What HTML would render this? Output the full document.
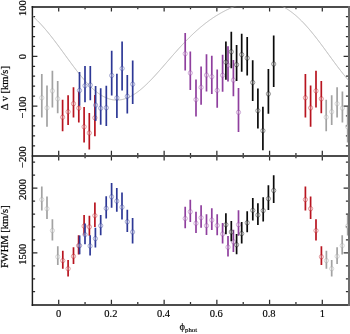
<!DOCTYPE html>
<html><head><meta charset="utf-8"><style>
html,body{margin:0;padding:0;background:#fff;}
body{width:350px;height:334px;overflow:hidden;font-family:"Liberation Serif",serif;}
svg{display:block;}
</style></head><body>
<svg width="350" height="334" viewBox="0 0 350 334">
<defs><clipPath id="cu"><rect x="32.5" y="6.7" width="315.5" height="149.0"/></clipPath><clipPath id="cc"><rect x="32.5" y="6.7" width="316.0" height="149.0"/></clipPath>
<clipPath id="cl"><rect x="32.5" y="155.7" width="315.5" height="149.0"/></clipPath></defs>
<rect width="350" height="334" fill="#fff"/>
<path d="M58.70 6.70L58.70 11.60M58.70 150.80L58.70 160.60M58.70 304.70L58.70 299.80M85.06 6.70L85.06 9.30M85.06 153.10L85.06 158.30M85.06 304.70L85.06 302.10M111.42 6.70L111.42 11.60M111.42 150.80L111.42 160.60M111.42 304.70L111.42 299.80M137.78 6.70L137.78 9.30M137.78 153.10L137.78 158.30M137.78 304.70L137.78 302.10M164.14 6.70L164.14 11.60M164.14 150.80L164.14 160.60M164.14 304.70L164.14 299.80M190.50 6.70L190.50 9.30M190.50 153.10L190.50 158.30M190.50 304.70L190.50 302.10M216.86 6.70L216.86 11.60M216.86 150.80L216.86 160.60M216.86 304.70L216.86 299.80M243.22 6.70L243.22 9.30M243.22 153.10L243.22 158.30M243.22 304.70L243.22 302.10M269.58 6.70L269.58 11.60M269.58 150.80L269.58 160.60M269.58 304.70L269.58 299.80M295.94 6.70L295.94 9.30M295.94 153.10L295.94 158.30M295.94 304.70L295.94 302.10M322.30 6.70L322.30 11.60M322.30 150.80L322.30 160.60M322.30 304.70L322.30 299.80M32.50 16.63L35.10 16.63M348.50 16.63L345.90 16.63M32.50 26.57L35.10 26.57M348.50 26.57L345.90 26.57M32.50 36.50L35.10 36.50M348.50 36.50L345.90 36.50M32.50 46.43L35.10 46.43M348.50 46.43L345.90 46.43M32.50 56.37L37.40 56.37M348.50 56.37L343.60 56.37M32.50 66.30L35.10 66.30M348.50 66.30L345.90 66.30M32.50 76.23L35.10 76.23M348.50 76.23L345.90 76.23M32.50 86.17L35.10 86.17M348.50 86.17L345.90 86.17M32.50 96.10L35.10 96.10M348.50 96.10L345.90 96.10M32.50 106.03L37.40 106.03M348.50 106.03L343.60 106.03M32.50 115.97L35.10 115.97M348.50 115.97L345.90 115.97M32.50 125.90L35.10 125.90M348.50 125.90L345.90 125.90M32.50 135.83L35.10 135.83M348.50 135.83L345.90 135.83M32.50 145.77L35.10 145.77M348.50 145.77L345.90 145.77M32.50 162.18L35.10 162.18M348.50 162.18L345.90 162.18M32.50 175.13L35.10 175.13M348.50 175.13L345.90 175.13M32.50 188.09L37.40 188.09M348.50 188.09L343.60 188.09M32.50 201.05L35.10 201.05M348.50 201.05L345.90 201.05M32.50 214.00L35.10 214.00M348.50 214.00L345.90 214.00M32.50 226.96L35.10 226.96M348.50 226.96L345.90 226.96M32.50 239.92L35.10 239.92M348.50 239.92L345.90 239.92M32.50 252.87L37.40 252.87M348.50 252.87L343.60 252.87M32.50 265.83L35.10 265.83M348.50 265.83L345.90 265.83M32.50 278.79L35.10 278.79M348.50 278.79L345.90 278.79M32.50 291.74L35.10 291.74M348.50 291.74L345.90 291.74" stroke="#2e2e2e" stroke-width="1.25" fill="none"/>
<path d="M31.7 7H348M31.7 156H348M31.7 305H348" stroke="#4c4c4c" stroke-width="2" fill="none"/>
<path d="M32.4 6V306" stroke="#1c1c1c" stroke-width="1.45" fill="none"/>
<path d="M349 6V306" stroke="#6c6c6c" stroke-width="2" fill="none"/>
<polyline points="32.5,16.06 33.5,16.95 34.5,17.86 35.5,18.80 36.5,19.77 37.5,20.75 38.5,21.76 39.5,22.80 40.5,23.86 41.5,24.94 42.5,26.04 43.5,27.16 44.5,28.30 45.5,29.46 46.5,30.65 47.5,31.85 48.5,33.07 49.5,34.30 50.5,35.55 51.5,36.82 52.5,38.10 53.5,39.39 54.5,40.70 55.5,42.01 56.5,43.34 57.5,44.68 58.5,46.03 59.5,47.38 60.5,48.74 61.5,50.10 62.5,51.47 63.5,52.84 64.5,54.22 65.5,55.59 66.5,56.96 67.5,58.33 68.5,59.70 69.5,61.06 70.5,62.42 71.5,63.77 72.5,65.11 73.5,66.45 74.5,67.77 75.5,69.08 76.5,70.38 77.5,71.66 78.5,72.93 79.5,74.19 80.5,75.42 81.5,76.64 82.5,77.83 83.5,79.01 84.5,80.16 85.5,81.29 86.5,82.39 87.5,83.47 88.5,84.52 89.5,85.55 90.5,86.55 91.5,87.51 92.5,88.45 93.5,89.35 94.5,90.23 95.5,91.07 96.5,91.87 97.5,92.65 98.5,93.38 99.5,94.08 100.5,94.75 101.5,95.37 102.5,95.96 103.5,96.52 104.5,97.03 105.5,97.50 106.5,97.94 107.5,98.33 108.5,98.69 109.5,99.01 110.5,99.28 111.5,99.52 112.5,99.71 113.5,99.86 114.5,99.98 115.5,100.05 116.5,100.08 117.5,100.07 118.5,100.03 119.5,99.94 120.5,99.81 121.5,99.64 122.5,99.44 123.5,99.19 124.5,98.91 125.5,98.59 126.5,98.23 127.5,97.84 128.5,97.41 129.5,96.94 130.5,96.44 131.5,95.90 132.5,95.33 133.5,94.73 134.5,94.10 135.5,93.44 136.5,92.74 137.5,92.02 138.5,91.27 139.5,90.49 140.5,89.68 141.5,88.85 142.5,87.99 143.5,87.11 144.5,86.20 145.5,85.28 146.5,84.33 147.5,83.36 148.5,82.38 149.5,81.38 150.5,80.35 151.5,79.32 152.5,78.27 153.5,77.20 154.5,76.12 155.5,75.04 156.5,73.94 157.5,72.83 158.5,71.71 159.5,70.58 160.5,69.45 161.5,68.31 162.5,67.16 163.5,66.02 164.5,64.87 165.5,63.71 166.5,62.56 167.5,61.40 168.5,60.25 169.5,59.10 170.5,57.94 171.5,56.80 172.5,55.65 173.5,54.51 174.5,53.38 175.5,52.25 176.5,51.12 177.5,50.01 178.5,48.90 179.5,47.80 180.5,46.70 181.5,45.62 182.5,44.55 183.5,43.48 184.5,42.43 185.5,41.39 186.5,40.36 187.5,39.34 188.5,38.33 189.5,37.34 190.5,36.35 191.5,35.38 192.5,34.43 193.5,33.48 194.5,32.55 195.5,31.64 196.5,30.73 197.5,29.84 198.5,28.97 199.5,28.11 200.5,27.26 201.5,26.43 202.5,25.61 203.5,24.80 204.5,24.01 205.5,23.23 206.5,22.47 207.5,21.72 208.5,20.98 209.5,20.26 210.5,19.55 211.5,18.86 212.5,18.18 213.5,17.51 214.5,16.86 215.5,16.22 216.5,15.59 217.5,14.98 218.5,14.38 219.5,13.79 220.5,13.22 221.5,12.65 222.5,12.10 223.5,11.57 224.5,11.04 225.5,10.53 226.5,10.03 227.5,9.55 228.5,9.07 229.5,8.61 230.5,8.16 231.5,7.73 232.5,7.30 233.5,6.89 234.5,6.49 235.5,6.11 236.5,5.73 237.5,5.37 238.5,5.03 239.5,4.69 240.5,4.37 241.5,4.06 242.5,3.77 243.5,3.49 244.5,3.22 245.5,2.97 246.5,2.73 247.5,2.51 248.5,2.30 249.5,2.10 250.5,1.93 251.5,1.76 252.5,1.62 253.5,1.49 254.5,1.37 255.5,1.28 256.5,1.20 257.5,1.13 258.5,1.09 259.5,1.07 260.5,1.06 261.5,1.07 262.5,1.11 263.5,1.16 264.5,1.23 265.5,1.32 266.5,1.44 267.5,1.57 268.5,1.73 269.5,1.91 270.5,2.11 271.5,2.34 272.5,2.59 273.5,2.86 274.5,3.16 275.5,3.48 276.5,3.82 277.5,4.19 278.5,4.59 279.5,5.01 280.5,5.45 281.5,5.92 282.5,6.42 283.5,6.94 284.5,7.49 285.5,8.07 286.5,8.67 287.5,9.30 288.5,9.96 289.5,10.64 290.5,11.35 291.5,12.08 292.5,12.84 293.5,13.63 294.5,14.44 295.5,15.28 296.5,16.15 297.5,17.04 298.5,17.96 299.5,18.90 300.5,19.86 301.5,20.85 302.5,21.87 303.5,22.90 304.5,23.96 305.5,25.04 306.5,26.15 307.5,27.27 308.5,28.42 309.5,29.58 310.5,30.77 311.5,31.97 312.5,33.19 313.5,34.42 314.5,35.68 315.5,36.94 316.5,38.23 317.5,39.52 318.5,40.83 319.5,42.15 320.5,43.48 321.5,44.81 322.5,46.16 323.5,47.51 324.5,48.87 325.5,50.24 326.5,51.61 327.5,52.98 328.5,54.35 329.5,55.73 330.5,57.10 331.5,58.47 332.5,59.84 333.5,61.20 334.5,62.56 335.5,63.91 336.5,65.25 337.5,66.58 338.5,67.90 339.5,69.21 340.5,70.51 341.5,71.79 342.5,73.06 343.5,74.31 344.5,75.54 345.5,76.76 346.5,77.95 347.5,79.12 348.5,80.27" fill="none" stroke="#b3b3b3" stroke-width="0.9" clip-path="url(#cc)"/>
<g clip-path="url(#cu)">
<line x1="326.20" y1="99.80" x2="326.20" y2="131.30" stroke="#a2a2a2" stroke-width="1.7"/>
<circle cx="326.20" cy="117.20" r="2.15" fill="#fff" fill-opacity="0.28" stroke="#a2a2a2" stroke-opacity="0.62" stroke-width="0.65"/>
<line x1="331.70" y1="95.30" x2="331.70" y2="125.00" stroke="#a2a2a2" stroke-width="1.7"/>
<circle cx="331.70" cy="111.80" r="2.15" fill="#fff" fill-opacity="0.28" stroke="#a2a2a2" stroke-opacity="0.62" stroke-width="0.65"/>
<line x1="337.10" y1="87.20" x2="337.10" y2="117.40" stroke="#a2a2a2" stroke-width="1.7"/>
<circle cx="337.10" cy="103.70" r="2.15" fill="#fff" fill-opacity="0.28" stroke="#a2a2a2" stroke-opacity="0.62" stroke-width="0.65"/>
<line x1="342.40" y1="91.40" x2="342.40" y2="122.60" stroke="#a2a2a2" stroke-width="1.7"/>
<circle cx="342.40" cy="108.10" r="2.15" fill="#fff" fill-opacity="0.28" stroke="#a2a2a2" stroke-opacity="0.62" stroke-width="0.65"/>
<line x1="347.70" y1="107.00" x2="347.70" y2="142.60" stroke="#a2a2a2" stroke-width="1.7"/>
<circle cx="347.70" cy="126.80" r="2.15" fill="#fff" fill-opacity="0.28" stroke="#a2a2a2" stroke-opacity="0.62" stroke-width="0.65"/>
<line x1="352.90" y1="113.00" x2="352.90" y2="149.50" stroke="#a2a2a2" stroke-width="1.7"/>
<circle cx="352.90" cy="133.00" r="2.15" fill="#fff" fill-opacity="0.28" stroke="#a2a2a2" stroke-opacity="0.62" stroke-width="0.65"/>
<line x1="358.50" y1="95.00" x2="358.50" y2="136.30" stroke="#a2a2a2" stroke-width="1.7"/>
<circle cx="358.50" cy="117.80" r="2.15" fill="#fff" fill-opacity="0.28" stroke="#a2a2a2" stroke-opacity="0.62" stroke-width="0.65"/>
<line x1="41.80" y1="74.00" x2="41.80" y2="117.50" stroke="#a2a2a2" stroke-width="1.7"/>
<circle cx="41.80" cy="97.80" r="2.15" fill="#fff" fill-opacity="0.28" stroke="#a2a2a2" stroke-opacity="0.62" stroke-width="0.65"/>
<line x1="47.00" y1="85.60" x2="47.00" y2="126.70" stroke="#a2a2a2" stroke-width="1.7"/>
<circle cx="47.00" cy="107.90" r="2.15" fill="#fff" fill-opacity="0.28" stroke="#a2a2a2" stroke-opacity="0.62" stroke-width="0.65"/>
<line x1="52.40" y1="70.70" x2="52.40" y2="107.60" stroke="#a2a2a2" stroke-width="1.7"/>
<circle cx="52.40" cy="90.90" r="2.15" fill="#fff" fill-opacity="0.28" stroke="#a2a2a2" stroke-opacity="0.62" stroke-width="0.65"/>
<line x1="57.70" y1="80.90" x2="57.70" y2="113.30" stroke="#a2a2a2" stroke-width="1.7"/>
<circle cx="57.70" cy="98.80" r="2.15" fill="#fff" fill-opacity="0.28" stroke="#a2a2a2" stroke-opacity="0.62" stroke-width="0.65"/>
<line x1="62.60" y1="99.80" x2="62.60" y2="131.30" stroke="#b8141f" stroke-width="1.7"/>
<circle cx="62.60" cy="117.20" r="2.15" fill="#fff" fill-opacity="0.28" stroke="#b8141f" stroke-opacity="0.62" stroke-width="0.65"/>
<line x1="68.10" y1="95.30" x2="68.10" y2="125.00" stroke="#b8141f" stroke-width="1.7"/>
<circle cx="68.10" cy="111.80" r="2.15" fill="#fff" fill-opacity="0.28" stroke="#b8141f" stroke-opacity="0.62" stroke-width="0.65"/>
<line x1="73.50" y1="87.20" x2="73.50" y2="117.40" stroke="#b8141f" stroke-width="1.7"/>
<circle cx="73.50" cy="103.70" r="2.15" fill="#fff" fill-opacity="0.28" stroke="#b8141f" stroke-opacity="0.62" stroke-width="0.65"/>
<line x1="78.80" y1="91.40" x2="78.80" y2="122.60" stroke="#b8141f" stroke-width="1.7"/>
<circle cx="78.80" cy="108.10" r="2.15" fill="#fff" fill-opacity="0.28" stroke="#b8141f" stroke-opacity="0.62" stroke-width="0.65"/>
<line x1="84.10" y1="107.00" x2="84.10" y2="142.60" stroke="#b8141f" stroke-width="1.7"/>
<circle cx="84.10" cy="126.80" r="2.15" fill="#fff" fill-opacity="0.28" stroke="#b8141f" stroke-opacity="0.62" stroke-width="0.65"/>
<line x1="89.30" y1="113.00" x2="89.30" y2="149.50" stroke="#b8141f" stroke-width="1.7"/>
<circle cx="89.30" cy="133.00" r="2.15" fill="#fff" fill-opacity="0.28" stroke="#b8141f" stroke-opacity="0.62" stroke-width="0.65"/>
<line x1="94.90" y1="95.00" x2="94.90" y2="136.30" stroke="#b8141f" stroke-width="1.7"/>
<circle cx="94.90" cy="117.80" r="2.15" fill="#fff" fill-opacity="0.28" stroke="#b8141f" stroke-opacity="0.62" stroke-width="0.65"/>
<line x1="305.40" y1="74.00" x2="305.40" y2="117.50" stroke="#b8141f" stroke-width="1.7"/>
<circle cx="305.40" cy="97.80" r="2.15" fill="#fff" fill-opacity="0.28" stroke="#b8141f" stroke-opacity="0.62" stroke-width="0.65"/>
<line x1="310.60" y1="85.60" x2="310.60" y2="126.70" stroke="#b8141f" stroke-width="1.7"/>
<circle cx="310.60" cy="107.90" r="2.15" fill="#fff" fill-opacity="0.28" stroke="#b8141f" stroke-opacity="0.62" stroke-width="0.65"/>
<line x1="316.00" y1="70.70" x2="316.00" y2="107.60" stroke="#b8141f" stroke-width="1.7"/>
<circle cx="316.00" cy="90.90" r="2.15" fill="#fff" fill-opacity="0.28" stroke="#b8141f" stroke-opacity="0.62" stroke-width="0.65"/>
<line x1="321.30" y1="80.90" x2="321.30" y2="113.30" stroke="#b8141f" stroke-width="1.7"/>
<circle cx="321.30" cy="98.80" r="2.15" fill="#fff" fill-opacity="0.28" stroke="#b8141f" stroke-opacity="0.62" stroke-width="0.65"/>
<line x1="79.50" y1="72.00" x2="79.50" y2="105.70" stroke="#2d3896" stroke-width="1.7"/>
<circle cx="79.50" cy="90.50" r="2.15" fill="#fff" fill-opacity="0.28" stroke="#2d3896" stroke-opacity="0.62" stroke-width="0.65"/>
<line x1="85.00" y1="66.00" x2="85.00" y2="102.20" stroke="#2d3896" stroke-width="1.7"/>
<circle cx="85.00" cy="85.70" r="2.15" fill="#fff" fill-opacity="0.28" stroke="#2d3896" stroke-opacity="0.62" stroke-width="0.65"/>
<line x1="90.30" y1="66.00" x2="90.30" y2="100.20" stroke="#2d3896" stroke-width="1.7"/>
<circle cx="90.30" cy="85.10" r="2.15" fill="#fff" fill-opacity="0.28" stroke="#2d3896" stroke-opacity="0.62" stroke-width="0.65"/>
<line x1="95.60" y1="86.00" x2="95.60" y2="121.00" stroke="#2d3896" stroke-width="1.7"/>
<circle cx="95.60" cy="105.10" r="2.15" fill="#fff" fill-opacity="0.28" stroke="#2d3896" stroke-opacity="0.62" stroke-width="0.65"/>
<line x1="100.70" y1="88.20" x2="100.70" y2="124.70" stroke="#2d3896" stroke-width="1.7"/>
<circle cx="100.70" cy="108.20" r="2.15" fill="#fff" fill-opacity="0.28" stroke="#2d3896" stroke-opacity="0.62" stroke-width="0.65"/>
<line x1="106.30" y1="85.80" x2="106.30" y2="125.90" stroke="#2d3896" stroke-width="1.7"/>
<circle cx="106.30" cy="107.80" r="2.15" fill="#fff" fill-opacity="0.28" stroke="#2d3896" stroke-opacity="0.62" stroke-width="0.65"/>
<line x1="111.70" y1="50.70" x2="111.70" y2="95.50" stroke="#2d3896" stroke-width="1.7"/>
<circle cx="111.70" cy="75.50" r="2.15" fill="#fff" fill-opacity="0.28" stroke="#2d3896" stroke-opacity="0.62" stroke-width="0.65"/>
<line x1="116.90" y1="73.80" x2="116.90" y2="118.00" stroke="#2d3896" stroke-width="1.7"/>
<circle cx="116.90" cy="97.90" r="2.15" fill="#fff" fill-opacity="0.28" stroke="#2d3896" stroke-opacity="0.62" stroke-width="0.65"/>
<line x1="122.10" y1="41.60" x2="122.10" y2="90.40" stroke="#2d3896" stroke-width="1.7"/>
<circle cx="122.10" cy="68.50" r="2.15" fill="#fff" fill-opacity="0.28" stroke="#2d3896" stroke-opacity="0.62" stroke-width="0.65"/>
<line x1="127.30" y1="75.10" x2="127.30" y2="113.60" stroke="#2d3896" stroke-width="1.7"/>
<circle cx="127.30" cy="96.30" r="2.15" fill="#fff" fill-opacity="0.28" stroke="#2d3896" stroke-opacity="0.62" stroke-width="0.65"/>
<line x1="132.70" y1="60.40" x2="132.70" y2="104.00" stroke="#2d3896" stroke-width="1.7"/>
<circle cx="132.70" cy="84.20" r="2.15" fill="#fff" fill-opacity="0.28" stroke="#2d3896" stroke-opacity="0.62" stroke-width="0.65"/>
<line x1="185.20" y1="33.10" x2="185.20" y2="70.60" stroke="#8f3f9e" stroke-width="1.7"/>
<circle cx="185.20" cy="53.70" r="2.15" fill="#fff" fill-opacity="0.28" stroke="#8f3f9e" stroke-opacity="0.62" stroke-width="0.65"/>
<line x1="190.30" y1="51.60" x2="190.30" y2="90.00" stroke="#8f3f9e" stroke-width="1.7"/>
<circle cx="190.30" cy="73.00" r="2.15" fill="#fff" fill-opacity="0.28" stroke="#8f3f9e" stroke-opacity="0.62" stroke-width="0.65"/>
<line x1="196.00" y1="79.60" x2="196.00" y2="116.40" stroke="#8f3f9e" stroke-width="1.7"/>
<circle cx="196.00" cy="99.60" r="2.15" fill="#fff" fill-opacity="0.28" stroke="#8f3f9e" stroke-opacity="0.62" stroke-width="0.65"/>
<line x1="201.10" y1="66.40" x2="201.10" y2="104.80" stroke="#8f3f9e" stroke-width="1.7"/>
<circle cx="201.10" cy="87.40" r="2.15" fill="#fff" fill-opacity="0.28" stroke="#8f3f9e" stroke-opacity="0.62" stroke-width="0.65"/>
<line x1="206.50" y1="54.30" x2="206.50" y2="91.50" stroke="#8f3f9e" stroke-width="1.7"/>
<circle cx="206.50" cy="75.10" r="2.15" fill="#fff" fill-opacity="0.28" stroke="#8f3f9e" stroke-opacity="0.62" stroke-width="0.65"/>
<line x1="211.80" y1="55.80" x2="211.80" y2="94.00" stroke="#8f3f9e" stroke-width="1.7"/>
<circle cx="211.80" cy="76.70" r="2.15" fill="#fff" fill-opacity="0.28" stroke="#8f3f9e" stroke-opacity="0.62" stroke-width="0.65"/>
<line x1="217.20" y1="69.50" x2="217.20" y2="107.80" stroke="#8f3f9e" stroke-width="1.7"/>
<circle cx="217.20" cy="90.40" r="2.15" fill="#fff" fill-opacity="0.28" stroke="#8f3f9e" stroke-opacity="0.62" stroke-width="0.65"/>
<line x1="222.60" y1="54.80" x2="222.60" y2="91.70" stroke="#8f3f9e" stroke-width="1.7"/>
<circle cx="222.60" cy="75.30" r="2.15" fill="#fff" fill-opacity="0.28" stroke="#8f3f9e" stroke-opacity="0.62" stroke-width="0.65"/>
<line x1="228.00" y1="46.20" x2="228.00" y2="81.60" stroke="#8f3f9e" stroke-width="1.7"/>
<circle cx="228.00" cy="65.40" r="2.15" fill="#fff" fill-opacity="0.28" stroke="#8f3f9e" stroke-opacity="0.62" stroke-width="0.65"/>
<line x1="233.40" y1="60.00" x2="233.40" y2="96.20" stroke="#8f3f9e" stroke-width="1.7"/>
<circle cx="233.40" cy="80.10" r="2.15" fill="#fff" fill-opacity="0.28" stroke="#8f3f9e" stroke-opacity="0.62" stroke-width="0.65"/>
<line x1="238.50" y1="88.00" x2="238.50" y2="132.10" stroke="#8f3f9e" stroke-width="1.7"/>
<circle cx="238.50" cy="112.30" r="2.15" fill="#fff" fill-opacity="0.28" stroke="#8f3f9e" stroke-opacity="0.62" stroke-width="0.65"/>
<line x1="225.90" y1="41.40" x2="225.90" y2="79.80" stroke="#0a0a0a" stroke-width="1.7"/>
<circle cx="225.90" cy="62.20" r="2.15" fill="#fff" fill-opacity="0.28" stroke="#0a0a0a" stroke-opacity="0.62" stroke-width="0.65"/>
<line x1="231.30" y1="31.80" x2="231.30" y2="68.20" stroke="#0a0a0a" stroke-width="1.7"/>
<circle cx="231.30" cy="51.80" r="2.15" fill="#fff" fill-opacity="0.28" stroke="#0a0a0a" stroke-opacity="0.62" stroke-width="0.65"/>
<line x1="236.60" y1="45.00" x2="236.60" y2="81.00" stroke="#0a0a0a" stroke-width="1.7"/>
<circle cx="236.60" cy="64.70" r="2.15" fill="#fff" fill-opacity="0.28" stroke="#0a0a0a" stroke-opacity="0.62" stroke-width="0.65"/>
<line x1="241.70" y1="33.80" x2="241.70" y2="71.70" stroke="#0a0a0a" stroke-width="1.7"/>
<circle cx="241.70" cy="54.60" r="2.15" fill="#fff" fill-opacity="0.28" stroke="#0a0a0a" stroke-opacity="0.62" stroke-width="0.65"/>
<line x1="247.20" y1="36.90" x2="247.20" y2="75.60" stroke="#0a0a0a" stroke-width="1.7"/>
<circle cx="247.20" cy="58.10" r="2.15" fill="#fff" fill-opacity="0.28" stroke="#0a0a0a" stroke-opacity="0.62" stroke-width="0.65"/>
<line x1="252.70" y1="60.20" x2="252.70" y2="100.90" stroke="#0a0a0a" stroke-width="1.7"/>
<circle cx="252.70" cy="82.50" r="2.15" fill="#fff" fill-opacity="0.28" stroke="#0a0a0a" stroke-opacity="0.62" stroke-width="0.65"/>
<line x1="257.90" y1="88.40" x2="257.90" y2="128.50" stroke="#0a0a0a" stroke-width="1.7"/>
<circle cx="257.90" cy="110.70" r="2.15" fill="#fff" fill-opacity="0.28" stroke="#0a0a0a" stroke-opacity="0.62" stroke-width="0.65"/>
<line x1="262.90" y1="106.80" x2="262.90" y2="150.20" stroke="#0a0a0a" stroke-width="1.7"/>
<circle cx="262.90" cy="130.70" r="2.15" fill="#fff" fill-opacity="0.28" stroke="#0a0a0a" stroke-opacity="0.62" stroke-width="0.65"/>
<line x1="268.40" y1="69.10" x2="268.40" y2="113.80" stroke="#0a0a0a" stroke-width="1.7"/>
<circle cx="268.40" cy="93.90" r="2.15" fill="#fff" fill-opacity="0.28" stroke="#0a0a0a" stroke-opacity="0.62" stroke-width="0.65"/>
<line x1="273.70" y1="35.40" x2="273.70" y2="86.90" stroke="#0a0a0a" stroke-width="1.7"/>
<circle cx="273.70" cy="64.00" r="2.15" fill="#fff" fill-opacity="0.28" stroke="#0a0a0a" stroke-opacity="0.62" stroke-width="0.65"/>
</g>
<g clip-path="url(#cl)">
<line x1="326.40" y1="250.80" x2="326.40" y2="268.70" stroke="#a2a2a2" stroke-width="1.7"/>
<circle cx="326.40" cy="260.60" r="2.15" fill="#fff" fill-opacity="0.28" stroke="#a2a2a2" stroke-opacity="0.62" stroke-width="0.65"/>
<line x1="331.70" y1="260.10" x2="331.70" y2="276.50" stroke="#a2a2a2" stroke-width="1.7"/>
<circle cx="331.70" cy="268.70" r="2.15" fill="#fff" fill-opacity="0.28" stroke="#a2a2a2" stroke-opacity="0.62" stroke-width="0.65"/>
<line x1="337.10" y1="247.20" x2="337.10" y2="264.00" stroke="#a2a2a2" stroke-width="1.7"/>
<circle cx="337.10" cy="256.30" r="2.15" fill="#fff" fill-opacity="0.28" stroke="#a2a2a2" stroke-opacity="0.62" stroke-width="0.65"/>
<line x1="342.20" y1="235.20" x2="342.20" y2="254.50" stroke="#a2a2a2" stroke-width="1.7"/>
<circle cx="342.20" cy="245.60" r="2.15" fill="#fff" fill-opacity="0.28" stroke="#a2a2a2" stroke-opacity="0.62" stroke-width="0.65"/>
<line x1="347.70" y1="215.00" x2="347.70" y2="235.50" stroke="#a2a2a2" stroke-width="1.7"/>
<circle cx="347.70" cy="226.10" r="2.15" fill="#fff" fill-opacity="0.28" stroke="#a2a2a2" stroke-opacity="0.62" stroke-width="0.65"/>
<line x1="353.00" y1="215.80" x2="353.00" y2="235.80" stroke="#a2a2a2" stroke-width="1.7"/>
<circle cx="353.00" cy="226.90" r="2.15" fill="#fff" fill-opacity="0.28" stroke="#a2a2a2" stroke-opacity="0.62" stroke-width="0.65"/>
<line x1="358.50" y1="202.60" x2="358.50" y2="226.90" stroke="#a2a2a2" stroke-width="1.7"/>
<circle cx="358.50" cy="215.60" r="2.15" fill="#fff" fill-opacity="0.28" stroke="#a2a2a2" stroke-opacity="0.62" stroke-width="0.65"/>
<line x1="41.80" y1="186.40" x2="41.80" y2="210.40" stroke="#a2a2a2" stroke-width="1.7"/>
<circle cx="41.80" cy="199.60" r="2.15" fill="#fff" fill-opacity="0.28" stroke="#a2a2a2" stroke-opacity="0.62" stroke-width="0.65"/>
<line x1="47.00" y1="196.40" x2="47.00" y2="219.10" stroke="#a2a2a2" stroke-width="1.7"/>
<circle cx="47.00" cy="208.70" r="2.15" fill="#fff" fill-opacity="0.28" stroke="#a2a2a2" stroke-opacity="0.62" stroke-width="0.65"/>
<line x1="52.40" y1="219.20" x2="52.40" y2="240.40" stroke="#a2a2a2" stroke-width="1.7"/>
<circle cx="52.40" cy="230.60" r="2.15" fill="#fff" fill-opacity="0.28" stroke="#a2a2a2" stroke-opacity="0.62" stroke-width="0.65"/>
<line x1="57.80" y1="246.20" x2="57.80" y2="265.10" stroke="#a2a2a2" stroke-width="1.7"/>
<circle cx="57.80" cy="256.80" r="2.15" fill="#fff" fill-opacity="0.28" stroke="#a2a2a2" stroke-opacity="0.62" stroke-width="0.65"/>
<line x1="62.80" y1="250.80" x2="62.80" y2="268.70" stroke="#b8141f" stroke-width="1.7"/>
<circle cx="62.80" cy="260.60" r="2.15" fill="#fff" fill-opacity="0.28" stroke="#b8141f" stroke-opacity="0.62" stroke-width="0.65"/>
<line x1="68.10" y1="260.10" x2="68.10" y2="276.50" stroke="#b8141f" stroke-width="1.7"/>
<circle cx="68.10" cy="268.70" r="2.15" fill="#fff" fill-opacity="0.28" stroke="#b8141f" stroke-opacity="0.62" stroke-width="0.65"/>
<line x1="73.50" y1="247.20" x2="73.50" y2="264.00" stroke="#b8141f" stroke-width="1.7"/>
<circle cx="73.50" cy="256.30" r="2.15" fill="#fff" fill-opacity="0.28" stroke="#b8141f" stroke-opacity="0.62" stroke-width="0.65"/>
<line x1="78.60" y1="235.20" x2="78.60" y2="254.50" stroke="#b8141f" stroke-width="1.7"/>
<circle cx="78.60" cy="245.60" r="2.15" fill="#fff" fill-opacity="0.28" stroke="#b8141f" stroke-opacity="0.62" stroke-width="0.65"/>
<line x1="84.10" y1="215.00" x2="84.10" y2="235.50" stroke="#b8141f" stroke-width="1.7"/>
<circle cx="84.10" cy="226.10" r="2.15" fill="#fff" fill-opacity="0.28" stroke="#b8141f" stroke-opacity="0.62" stroke-width="0.65"/>
<line x1="89.40" y1="215.80" x2="89.40" y2="235.80" stroke="#b8141f" stroke-width="1.7"/>
<circle cx="89.40" cy="226.90" r="2.15" fill="#fff" fill-opacity="0.28" stroke="#b8141f" stroke-opacity="0.62" stroke-width="0.65"/>
<line x1="94.90" y1="202.60" x2="94.90" y2="226.90" stroke="#b8141f" stroke-width="1.7"/>
<circle cx="94.90" cy="215.60" r="2.15" fill="#fff" fill-opacity="0.28" stroke="#b8141f" stroke-opacity="0.62" stroke-width="0.65"/>
<line x1="305.40" y1="186.40" x2="305.40" y2="210.40" stroke="#b8141f" stroke-width="1.7"/>
<circle cx="305.40" cy="199.60" r="2.15" fill="#fff" fill-opacity="0.28" stroke="#b8141f" stroke-opacity="0.62" stroke-width="0.65"/>
<line x1="310.60" y1="196.40" x2="310.60" y2="219.10" stroke="#b8141f" stroke-width="1.7"/>
<circle cx="310.60" cy="208.70" r="2.15" fill="#fff" fill-opacity="0.28" stroke="#b8141f" stroke-opacity="0.62" stroke-width="0.65"/>
<line x1="316.00" y1="219.20" x2="316.00" y2="240.40" stroke="#b8141f" stroke-width="1.7"/>
<circle cx="316.00" cy="230.60" r="2.15" fill="#fff" fill-opacity="0.28" stroke="#b8141f" stroke-opacity="0.62" stroke-width="0.65"/>
<line x1="321.40" y1="246.20" x2="321.40" y2="265.10" stroke="#b8141f" stroke-width="1.7"/>
<circle cx="321.40" cy="256.80" r="2.15" fill="#fff" fill-opacity="0.28" stroke="#b8141f" stroke-opacity="0.62" stroke-width="0.65"/>
<line x1="79.60" y1="235.50" x2="79.60" y2="254.30" stroke="#2d3896" stroke-width="1.7"/>
<circle cx="79.60" cy="245.60" r="2.15" fill="#fff" fill-opacity="0.28" stroke="#2d3896" stroke-opacity="0.62" stroke-width="0.65"/>
<line x1="85.00" y1="223.40" x2="85.00" y2="244.20" stroke="#2d3896" stroke-width="1.7"/>
<circle cx="85.00" cy="234.60" r="2.15" fill="#fff" fill-opacity="0.28" stroke="#2d3896" stroke-opacity="0.62" stroke-width="0.65"/>
<line x1="90.10" y1="235.30" x2="90.10" y2="255.50" stroke="#2d3896" stroke-width="1.7"/>
<circle cx="90.10" cy="246.00" r="2.15" fill="#fff" fill-opacity="0.28" stroke="#2d3896" stroke-opacity="0.62" stroke-width="0.65"/>
<line x1="95.40" y1="227.80" x2="95.40" y2="247.50" stroke="#2d3896" stroke-width="1.7"/>
<circle cx="95.40" cy="238.60" r="2.15" fill="#fff" fill-opacity="0.28" stroke="#2d3896" stroke-opacity="0.62" stroke-width="0.65"/>
<line x1="100.70" y1="215.00" x2="100.70" y2="235.30" stroke="#2d3896" stroke-width="1.7"/>
<circle cx="100.70" cy="225.70" r="2.15" fill="#fff" fill-opacity="0.28" stroke="#2d3896" stroke-opacity="0.62" stroke-width="0.65"/>
<line x1="106.20" y1="196.30" x2="106.20" y2="218.40" stroke="#2d3896" stroke-width="1.7"/>
<circle cx="106.20" cy="208.40" r="2.15" fill="#fff" fill-opacity="0.28" stroke="#2d3896" stroke-opacity="0.62" stroke-width="0.65"/>
<line x1="111.60" y1="183.10" x2="111.60" y2="207.70" stroke="#2d3896" stroke-width="1.7"/>
<circle cx="111.60" cy="196.80" r="2.15" fill="#fff" fill-opacity="0.28" stroke="#2d3896" stroke-opacity="0.62" stroke-width="0.65"/>
<line x1="116.80" y1="187.90" x2="116.80" y2="211.80" stroke="#2d3896" stroke-width="1.7"/>
<circle cx="116.80" cy="201.10" r="2.15" fill="#fff" fill-opacity="0.28" stroke="#2d3896" stroke-opacity="0.62" stroke-width="0.65"/>
<line x1="122.00" y1="192.40" x2="122.00" y2="219.40" stroke="#2d3896" stroke-width="1.7"/>
<circle cx="122.00" cy="207.20" r="2.15" fill="#fff" fill-opacity="0.28" stroke="#2d3896" stroke-opacity="0.62" stroke-width="0.65"/>
<line x1="127.30" y1="209.80" x2="127.30" y2="231.90" stroke="#2d3896" stroke-width="1.7"/>
<circle cx="127.30" cy="221.80" r="2.15" fill="#fff" fill-opacity="0.28" stroke="#2d3896" stroke-opacity="0.62" stroke-width="0.65"/>
<line x1="132.60" y1="218.00" x2="132.60" y2="243.60" stroke="#2d3896" stroke-width="1.7"/>
<circle cx="132.60" cy="232.00" r="2.15" fill="#fff" fill-opacity="0.28" stroke="#2d3896" stroke-opacity="0.62" stroke-width="0.65"/>
<line x1="185.20" y1="206.80" x2="185.20" y2="228.30" stroke="#8f3f9e" stroke-width="1.7"/>
<circle cx="185.20" cy="218.50" r="2.15" fill="#fff" fill-opacity="0.28" stroke="#8f3f9e" stroke-opacity="0.62" stroke-width="0.65"/>
<line x1="190.30" y1="199.80" x2="190.30" y2="222.00" stroke="#8f3f9e" stroke-width="1.7"/>
<circle cx="190.30" cy="211.80" r="2.15" fill="#fff" fill-opacity="0.28" stroke="#8f3f9e" stroke-opacity="0.62" stroke-width="0.65"/>
<line x1="196.00" y1="211.80" x2="196.00" y2="233.00" stroke="#8f3f9e" stroke-width="1.7"/>
<circle cx="196.00" cy="223.30" r="2.15" fill="#fff" fill-opacity="0.28" stroke="#8f3f9e" stroke-opacity="0.62" stroke-width="0.65"/>
<line x1="201.10" y1="205.30" x2="201.10" y2="227.80" stroke="#8f3f9e" stroke-width="1.7"/>
<circle cx="201.10" cy="217.70" r="2.15" fill="#fff" fill-opacity="0.28" stroke="#8f3f9e" stroke-opacity="0.62" stroke-width="0.65"/>
<line x1="206.50" y1="214.20" x2="206.50" y2="235.10" stroke="#8f3f9e" stroke-width="1.7"/>
<circle cx="206.50" cy="225.70" r="2.15" fill="#fff" fill-opacity="0.28" stroke="#8f3f9e" stroke-opacity="0.62" stroke-width="0.65"/>
<line x1="211.80" y1="208.20" x2="211.80" y2="230.00" stroke="#8f3f9e" stroke-width="1.7"/>
<circle cx="211.80" cy="220.10" r="2.15" fill="#fff" fill-opacity="0.28" stroke="#8f3f9e" stroke-opacity="0.62" stroke-width="0.65"/>
<line x1="217.20" y1="214.20" x2="217.20" y2="235.20" stroke="#8f3f9e" stroke-width="1.7"/>
<circle cx="217.20" cy="225.50" r="2.15" fill="#fff" fill-opacity="0.28" stroke="#8f3f9e" stroke-opacity="0.62" stroke-width="0.65"/>
<line x1="222.60" y1="223.10" x2="222.60" y2="243.60" stroke="#8f3f9e" stroke-width="1.7"/>
<circle cx="222.60" cy="234.00" r="2.15" fill="#fff" fill-opacity="0.28" stroke="#8f3f9e" stroke-opacity="0.62" stroke-width="0.65"/>
<line x1="228.00" y1="236.00" x2="228.00" y2="256.40" stroke="#8f3f9e" stroke-width="1.7"/>
<circle cx="228.00" cy="247.20" r="2.15" fill="#fff" fill-opacity="0.28" stroke="#8f3f9e" stroke-opacity="0.62" stroke-width="0.65"/>
<line x1="233.40" y1="229.80" x2="233.40" y2="252.00" stroke="#8f3f9e" stroke-width="1.7"/>
<circle cx="233.40" cy="241.80" r="2.15" fill="#fff" fill-opacity="0.28" stroke="#8f3f9e" stroke-opacity="0.62" stroke-width="0.65"/>
<line x1="238.50" y1="210.30" x2="238.50" y2="235.80" stroke="#8f3f9e" stroke-width="1.7"/>
<circle cx="238.50" cy="224.70" r="2.15" fill="#fff" fill-opacity="0.28" stroke="#8f3f9e" stroke-opacity="0.62" stroke-width="0.65"/>
<line x1="225.90" y1="213.20" x2="225.90" y2="234.30" stroke="#0a0a0a" stroke-width="1.7"/>
<circle cx="225.90" cy="224.70" r="2.15" fill="#fff" fill-opacity="0.28" stroke="#0a0a0a" stroke-opacity="0.62" stroke-width="0.65"/>
<line x1="231.30" y1="221.10" x2="231.30" y2="241.20" stroke="#0a0a0a" stroke-width="1.7"/>
<circle cx="231.30" cy="232.00" r="2.15" fill="#fff" fill-opacity="0.28" stroke="#0a0a0a" stroke-opacity="0.62" stroke-width="0.65"/>
<line x1="236.60" y1="234.00" x2="236.60" y2="254.30" stroke="#0a0a0a" stroke-width="1.7"/>
<circle cx="236.60" cy="244.80" r="2.15" fill="#fff" fill-opacity="0.28" stroke="#0a0a0a" stroke-opacity="0.62" stroke-width="0.65"/>
<line x1="241.70" y1="222.00" x2="241.70" y2="243.60" stroke="#0a0a0a" stroke-width="1.7"/>
<circle cx="241.70" cy="233.60" r="2.15" fill="#fff" fill-opacity="0.28" stroke="#0a0a0a" stroke-opacity="0.62" stroke-width="0.65"/>
<line x1="247.20" y1="211.30" x2="247.20" y2="232.30" stroke="#0a0a0a" stroke-width="1.7"/>
<circle cx="247.20" cy="222.80" r="2.15" fill="#fff" fill-opacity="0.28" stroke="#0a0a0a" stroke-opacity="0.62" stroke-width="0.65"/>
<line x1="252.80" y1="198.00" x2="252.80" y2="220.40" stroke="#0a0a0a" stroke-width="1.7"/>
<circle cx="252.80" cy="210.40" r="2.15" fill="#fff" fill-opacity="0.28" stroke="#0a0a0a" stroke-opacity="0.62" stroke-width="0.65"/>
<line x1="257.90" y1="203.20" x2="257.90" y2="225.10" stroke="#0a0a0a" stroke-width="1.7"/>
<circle cx="257.90" cy="215.00" r="2.15" fill="#fff" fill-opacity="0.28" stroke="#0a0a0a" stroke-opacity="0.62" stroke-width="0.65"/>
<line x1="263.20" y1="197.20" x2="263.20" y2="221.60" stroke="#0a0a0a" stroke-width="1.7"/>
<circle cx="263.20" cy="210.60" r="2.15" fill="#fff" fill-opacity="0.28" stroke="#0a0a0a" stroke-opacity="0.62" stroke-width="0.65"/>
<line x1="268.40" y1="185.20" x2="268.40" y2="210.00" stroke="#0a0a0a" stroke-width="1.7"/>
<circle cx="268.40" cy="198.70" r="2.15" fill="#fff" fill-opacity="0.28" stroke="#0a0a0a" stroke-opacity="0.62" stroke-width="0.65"/>
<line x1="273.70" y1="175.30" x2="273.70" y2="203.00" stroke="#0a0a0a" stroke-width="1.7"/>
<circle cx="273.70" cy="190.50" r="2.15" fill="#fff" fill-opacity="0.28" stroke="#0a0a0a" stroke-opacity="0.62" stroke-width="0.65"/>
</g>
<g font-family="Liberation Serif, serif" font-size="10.5" fill="#000" stroke="#000" stroke-width="0.2" style="filter:grayscale(1)">
<text transform="translate(25.90,8.00) rotate(-90)" text-anchor="middle">100</text>
<text transform="translate(25.90,56.67) rotate(-90)" text-anchor="middle">0</text>
<text transform="translate(25.90,107.33) rotate(-90)" text-anchor="middle">−100</text>
<text transform="translate(25.90,157.00) rotate(-90)" text-anchor="middle">−200</text>
<text transform="translate(25.90,189.39) rotate(-90)" text-anchor="middle">2000</text>
<text transform="translate(25.90,254.17) rotate(-90)" text-anchor="middle">1500</text>
<text transform="translate(7.60,88.10) rotate(-90)" text-anchor="middle">Δ v [km/s]</text>
<text transform="translate(7.60,236.70) rotate(-90)" text-anchor="middle">FWHM [km/s]</text>
</g>
<g font-family="Liberation Serif, serif" font-size="10.5" fill="#000" stroke="#000" stroke-width="0.15" style="filter:grayscale(1)">
<text x="58.70" y="316.6" text-anchor="middle">0</text>
<text x="110.82" y="316.6" text-anchor="middle">0.2</text>
<text x="163.54" y="316.6" text-anchor="middle">0.4</text>
<text x="216.26" y="316.6" text-anchor="middle">0.6</text>
<text x="268.98" y="316.6" text-anchor="middle">0.8</text>
<text x="322.30" y="316.6" text-anchor="middle">1</text>
<text x="179.4" y="330.0" font-size="10.5">ϕ</text><text x="185" y="332.2" font-size="6.8">phot</text>
</g>
</svg>
</body></html>
